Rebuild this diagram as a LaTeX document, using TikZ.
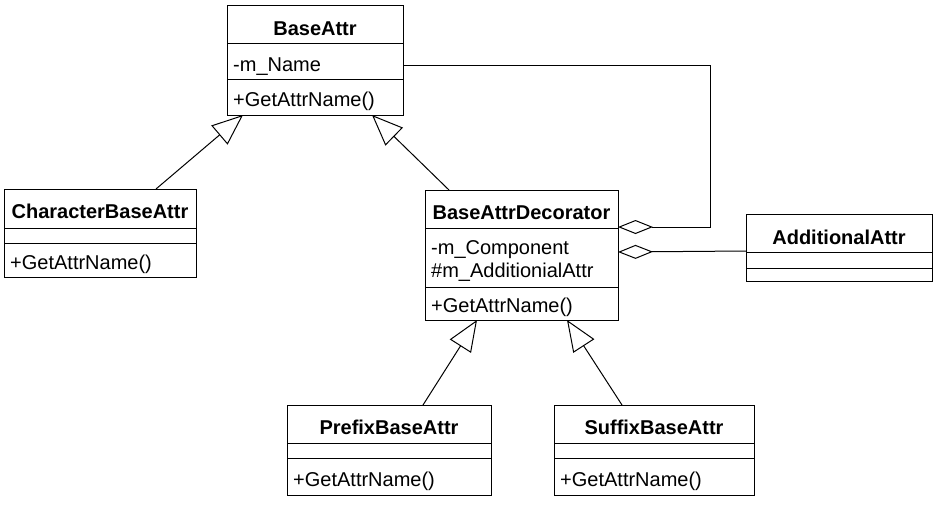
\documentclass[tikz,border=0pt]{standalone}
\usepackage{fontspec}
\setmainfont{Liberation Sans}
\usetikzlibrary{arrows.meta}
\begin{document}
\begin{tikzpicture}[x=1pt,y=-1pt,
  box/.style={draw, line width=1pt, rectangle, inner sep=0pt, outer sep=0pt},
  sepline/.style={line width=1pt},
  ttl/.style={font=\fontsize{20}{24}\selectfont\bfseries, anchor=base, inner sep=0pt},
  mem/.style={font=\fontsize{20}{24}\selectfont, anchor=base west, inner sep=0pt},
  gen/.style={line width=1pt, -{Triangle[open, length=31pt, width=25pt]}},
  agg/.style={line width=1pt, -{Diamond[open, length=35pt, width=14pt]}}]
\useasboundingbox (0,0) rectangle (940,504);

% boxes
\node[box, minimum width=176pt, minimum height=110pt] (ba)  at (315,60) {};
\node[box, minimum width=192pt, minimum height=88pt]  (cba) at (100,233) {};
\node[box, minimum width=193pt, minimum height=130pt] (bad) at (521.5,255) {};
\node[box, minimum width=186pt, minimum height=67pt]  (aa)  at (839,247.5) {};
\node[box, minimum width=204pt, minimum height=90pt]  (pba) at (389,450) {};
\node[box, minimum width=200pt, minimum height=90pt]  (sba) at (654,450) {};

% compartment separators
\draw[sepline] (ba.west |- 0,43) -- (ba.east |- 0,43);
\draw[sepline] (ba.west |- 0,79) -- (ba.east |- 0,79);
\draw[sepline] (cba.west |- 0,228) -- (cba.east |- 0,228);
\draw[sepline] (cba.west |- 0,243) -- (cba.east |- 0,243);
\draw[sepline] (bad.west |- 0,228) -- (bad.east |- 0,228);
\draw[sepline] (bad.west |- 0,287) -- (bad.east |- 0,287);
\draw[sepline] (aa.west |- 0,252) -- (aa.east |- 0,252);
\draw[sepline] (aa.west |- 0,268) -- (aa.east |- 0,268);
\draw[sepline] (pba.west |- 0,443) -- (pba.east |- 0,443);
\draw[sepline] (pba.west |- 0,458) -- (pba.east |- 0,458);
\draw[sepline] (sba.west |- 0,443) -- (sba.east |- 0,443);
\draw[sepline] (sba.west |- 0,458) -- (sba.east |- 0,458);

% texts
\node[ttl] (baT) at (315,35) {BaseAttr};
\node[mem] (baA) at (233,71) {-m\_Name};
\node[mem] (baO) at (233,106) {+GetAttrName()};

\node[ttl] (cbaT) at (100,218) {CharacterBaseAttr};
\node[mem] (cbaO) at (10,269) {+GetAttrName()};

\node[ttl] (badT) at (521.5,219) {BaseAttrDecorator};
\node[mem] (badA1) at (431,254) {-m\_Component};
\node[mem] (badA2) at (431,277) {\#m\_AdditionialAttr};
\node[mem] (badO) at (431,312) {+GetAttrName()};

\node[ttl] (aaT) at (839,244) {AdditionalAttr};

\node[ttl] (pbaT) at (389,434) {PrefixBaseAttr};
\node[mem] (pbaO) at (293,486) {+GetAttrName()};

\node[ttl] (sbaT) at (654,434) {SuffixBaseAttr};
\node[mem] (sbaO) at (560,486) {+GetAttrName()};

% generalizations
\coordinate (tipL) at (ba.south -| 243,0);
\coordinate (tipR) at (ba.south -| 372,0);
\coordinate (tipP) at (bad.south -| 477,0);
\coordinate (tipS) at (bad.south -| 567,0);
\draw[gen] (cba.north -| 156,0) -- (tipL);
\draw[gen] (bad.north -| 449,0) -- (tipR);
\draw[gen] (pba.north -| 423,0) -- (tipP);
\draw[gen] (sba.north -| 622,0) -- (tipS);

% aggregations
\coordinate (c1) at (710,65);
\coordinate (c2) at (710,227);
\draw[agg] (ba.east |- c1) -- (c1) -- (c2) -- (bad.east |- c2);
\draw[agg] (aa.west |- 0,251) -- (bad.east |- 0,252);
\end{tikzpicture}
\end{document}
